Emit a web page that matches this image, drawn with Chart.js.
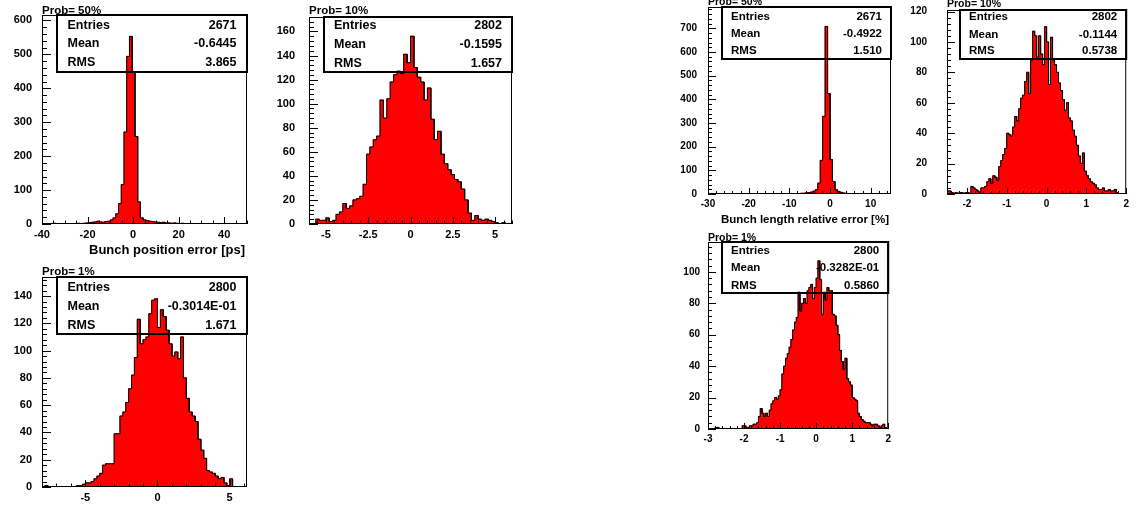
<!DOCTYPE html>
<html>
<head>
<meta charset="utf-8">
<title>Bunch reconstruction errors</title>
<script src="https://cdn.jsdelivr.net/npm/chart.js@4.4.1/dist/chart.umd.min.js"></script>
<style>
  html, body { margin: 0; padding: 0; background: #fff; }
  body { position: relative; width: 1137px; height: 506px; overflow: hidden; }
  canvas { position: absolute; }
</style>
</head>
<body>
<canvas id="pos50"></canvas>
<canvas id="pos10"></canvas>
<canvas id="pos1"></canvas>
<canvas id="len50"></canvas>
<canvas id="len10"></canvas>
<canvas id="len1"></canvas>
<script>
var probLabels = ['Prob= 50%', 'Prob= 10%', 'Prob= 1%'];
var statNames = ['Entries', 'Mean', 'RMS'];

// bunch position error [ps]
var posTitle = 'Bunch position error [ps]';

var posRange50 = [-40, 50];
var posYMax50 = 616;
var posCounts50 = [
  0, 0, 0, 1, 2, 0, 0, 0, 1, 0,
  0, 1, 1, 2, 1, 2, 3, 4, 5, 6,
  8, 6, 5, 7, 8, 12, 18, 30, 60, 116,
  271, 494, 553, 449, 258, 65, 18, 12, 10, 8,
  7, 6, 5, 4, 5, 3, 3, 2, 3, 2,
  1, 2, 1, 1, 0, 1, 0, 0, 0, 0,
  0, 0, 0, 0, 0, 0, 0, 0, 0, 0,
  0, 0, 0, 0, 0
];
var posStats50 = ['2671', '-0.6445', '3.865'];
var posTicks50 = [-40, -20, 0, 20, 40];
var posYTicks50 = [0, 100, 200, 300, 400, 500, 600];

var posRange10 = [-6, 6];
var posYMax10 = 172;
var posCounts10 = [
  0, 0, 4, 3, 3, 5, 2, 3, 8, 10,
  17, 13, 15, 20, 21, 23, 33, 58, 64, 70,
  73, 103, 88, 104, 118, 124, 127, 125, 141, 134,
  156, 130, 122, 118, 103, 113, 87, 70, 77, 58,
  50, 45, 41, 37, 35, 29, 20, 9, 3, 7,
  4, 3, 4, 3, 2, 1, 0, 1, 0, 0
];
var posStats10 = ['2802', '-0.1595', '1.657'];
var posTicks10 = [-5, -2.5, 0, 2.5, 5];
var posYTicks10 = [0, 20, 40, 60, 80, 100, 120, 140, 160];

var posRange1 = [-8, 6.2];
var posYMax1 = 154;
var posCounts1 = [
  0, 1, 0, 0, 0, 0, 0, 0, 0, 0,
  0, 0, 1, 1, 2, 3, 3, 4, 6, 8,
  10, 16, 17, 17, 17, 39, 39, 52, 55, 62,
  72, 82, 95, 123, 105, 108, 110, 127, 137, 138,
  117, 130, 125, 115, 105, 96, 99, 94, 110, 80,
  65, 55, 52, 48, 35, 27, 21, 12, 11, 10,
  8, 6, 7, 3, 1, 6, 0, 0, 0, 0,
  0
];
var posStats1 = ['2800', '-0.3014E-01', '1.671'];
var posTicks1 = [-5, 0, 5];
var posYTicks1 = [0, 20, 40, 60, 80, 100, 120, 140];

// bunch length relative error [%]
var lenTitle = 'Bunch length relative error [%]';

var lenRange50 = [-30, 15];
var lenYMax50 = 790;
var lenCounts50 = [
  0, 0, 0, 0, 0, 0, 0, 0, 0, 0,
  0, 0, 0, 0, 0, 0, 0, 0, 0, 0,
  0, 0, 0, 0, 0, 0, 0, 1, 0, 0,
  0, 1, 0, 1, 0, 2, 1, 2, 3, 3,
  5, 6, 8, 12, 18, 46, 142, 328, 708, 424,
  145, 53, 18, 11, 7, 4, 3, 2, 1, 2,
  1, 0, 1, 0, 0, 0, 0, 0, 0, 0,
  0, 0, 0, 0, 0
];
var lenStats50 = ['2671', '-0.4922', '1.510'];
var lenTicks50 = [-30, -20, -10, 0, 10];
var lenYTicks50 = [0, 100, 200, 300, 400, 500, 600, 700];

var lenRange10 = [-2.5, 2];
var lenYMax10 = 121;
var lenCounts10 = [
  2, 2, 1, 0, 1, 0, 1, 1, 0, 1,
  1, 0, 5, 4, 3, 2, 1, 4, 4, 5,
  8, 10, 7, 12, 11, 9, 18, 22, 26, 30,
  40, 39, 38, 44, 51, 48, 56, 63, 65, 74,
  80, 66, 88, 107, 104, 90, 104, 92, 85, 110,
  100, 72, 103, 88, 85, 80, 73, 68, 62, 55,
  60, 50, 48, 42, 38, 32, 25, 20, 27, 15,
  12, 10, 8, 7, 6, 4, 3, 3, 4, 2,
  2, 3, 2, 2, 3, 1, 0, 0, 0, 0
];
var lenStats10 = ['2802', '-0.1144', '0.5738'];
var lenTicks10 = [-2, -1, 0, 1, 2];
var lenYTicks10 = [0, 20, 40, 60, 80, 100, 120];

var lenRange1 = [-3, 2];
var lenYMax1 = 119;
var lenCounts1 = [
  0, 0, 0, 0, 1, 1, 0, 0, 0, 0,
  0, 0, 0, 0, 0, 0, 0, 0, 0, 2,
  2, 1, 1, 2, 2, 3, 3, 4, 8, 13,
  10, 8, 10, 8, 12, 16, 18, 20, 19, 21,
  25, 35, 40, 45, 48, 52, 57, 63, 68, 71,
  87, 75, 80, 83, 80, 88, 90, 92, 83, 90,
  96, 107, 95, 73, 87, 82, 90, 88, 88, 73,
  72, 66, 60, 50, 43, 38, 45, 32, 30, 28,
  20, 19, 18, 10, 8, 6, 5, 4, 4, 4,
  3, 2, 3, 3, 2, 1, 2, 3, 1, 0
];
var lenStats1 = ['2800', '-0.3282E-01', '0.5860'];
var lenTicks1 = [-3, -2, -1, 0, 1, 2];
var lenYTicks1 = [0, 20, 40, 60, 80, 100];

// pad layout: frame = [left, top, right, bottom] in page pixels
var bigPad = {tick: 11, stat: 12.5, title: 11.5, axis: 13, tickX: [7, 3.5], tickY: [9, 5]};
var smallPad = {tick: 10, stat: 11.5, title: 10.5, axis: 11.5, tickX: [6, 3], tickY: [8, 4]};

var panels = [
  {id: 'pos50', frame: [42, 15, 247, 224], range: posRange50, yMax: posYMax50, counts: posCounts50,
    stats: posStats50, xTicks: posTicks50, yTicks: posYTicks50, xMinor: 5, yMinor: 20,
    label: probLabels[0], labelLift: 1.3, axisTitle: posTitle, yPad: 10, look: bigPad,
    box: {dx: 15, h: 57, rows: [10.5, 29, 48], inset: 10.5}},
  {id: 'pos10', frame: [309, 17, 512, 224], range: posRange10, yMax: posYMax10, counts: posCounts10,
    stats: posStats10, xTicks: posTicks10, yTicks: posYTicks10, xMinor: 0.5, yMinor: 4,
    label: probLabels[1], labelLift: 3.5, yPad: 14, look: bigPad,
    box: {dx: 15, h: 55, rows: [9, 27.5, 46.5], inset: 10}},
  {id: 'pos1', frame: [42, 277, 247, 487], range: posRange1, yMax: posYMax1, counts: posCounts1,
    stats: posStats1, xTicks: posTicks1, yTicks: posYTicks1, xMinor: 1, yMinor: 4,
    label: probLabels[2], labelLift: 1.6, yPad: 10, look: bigPad,
    box: {dx: 15, h: 57, rows: [10.5, 29.5, 48.5], inset: 10.5}},
  {id: 'len50', frame: [708, 7, 891, 194], range: lenRange50, yMax: lenYMax50, counts: lenCounts50,
    stats: lenStats50, xTicks: lenTicks50, yTicks: lenYTicks50, xMinor: 2, yMinor: 20,
    label: probLabels[0], labelLift: 1.8, axisTitle: lenTitle, yPad: 11, look: smallPad,
    box: {dx: 14, h: 52, rows: [9.5, 27, 43.5], inset: 9}},
  {id: 'len10', frame: [947, 10, 1129, 194], range: lenRange10, yMax: lenYMax10, counts: lenCounts10,
    stats: lenStats10, xTicks: lenTicks10, yTicks: lenYTicks10, xMinor: 0.2, yMinor: 4,
    label: probLabels[1], labelLift: 3, yPad: 20, look: smallPad,
    box: {dx: 13, h: 49, rows: [7, 24.5, 40.5], inset: 9}},
  {id: 'len1', frame: [708, 242, 891, 429], range: lenRange1, yMax: lenYMax1, counts: lenCounts1,
    stats: lenStats1, xTicks: lenTicks1, yTicks: lenYTicks1, xMinor: 0.2, yMinor: 4,
    label: probLabels[2], labelLift: 1.3, yPad: 8, look: smallPad,
    box: {dx: 14, h: 51, rows: [8.5, 26, 43.5], inset: 9}}
];

var FONT = '"Liberation Sans", Arial, Helvetica, sans-serif';
// top margin stays larger than the y scale's own label padding
var PAD_L = 44, PAD_T = 32, PAD_R = 4, PAD_B = 40;

function steps(lo, hi, step) {
  var out = [];
  var k0 = Math.ceil(lo / step - 1e-9), k1 = Math.floor(hi / step + 1e-9);
  for (var k = k0; k <= k1; k++) {
    out.push(+(k * step).toFixed(6));
  }
  return out;
}

// frame, inward tick marks, stats box and labels in the ROOT style
function rootPad(p) {
  return {
    id: 'rootPad',
    afterDatasetsDraw: function(chart) {
      var ctx = chart.ctx;
      var a = chart.chartArea;
      var xs = chart.scales.x, ys = chart.scales.y;
      var look = p.look;
      ctx.save();
      ctx.strokeStyle = '#000';
      ctx.lineWidth = 1;
      ctx.strokeRect(a.left + 0.5, a.top + 0.5, a.right - a.left - 1, a.bottom - a.top - 1);

      ctx.beginPath();
      steps(p.range[0], p.range[1], p.xMinor).forEach(function(v) {
        var px = Math.round(xs.getPixelForValue(v)) + 0.5;
        var len = p.xTicks.indexOf(v) >= 0 ? look.tickX[0] : look.tickX[1];
        ctx.moveTo(px, a.bottom);
        ctx.lineTo(px, a.bottom - len);
      });
      steps(0, p.yMax, p.yMinor).forEach(function(v) {
        var py = Math.round(ys.getPixelForValue(v)) + 0.5;
        var len = p.yTicks.indexOf(v) >= 0 ? look.tickY[0] : look.tickY[1];
        ctx.moveTo(a.left, py);
        ctx.lineTo(a.left + len, py);
      });
      ctx.stroke();

      // statistics box
      var bx = a.left + p.box.dx;
      ctx.lineWidth = 2;
      ctx.strokeRect(bx, a.top, a.right - bx, p.box.h);
      ctx.fillStyle = '#000';
      ctx.font = 'bold ' + look.stat + 'px ' + FONT;
      ctx.textBaseline = 'middle';
      p.stats.forEach(function(val, k) {
        var y = a.top + p.box.rows[k];
        ctx.textAlign = 'left';
        ctx.fillText(statNames[k], bx + p.box.inset, y);
        ctx.textAlign = 'right';
        ctx.fillText(val, a.right - p.box.inset, y);
      });

      ctx.font = 'bold ' + look.title + 'px ' + FONT;
      ctx.textAlign = 'left';
      ctx.textBaseline = 'alphabetic';
      ctx.fillText(p.label, a.left, a.top - p.labelLift);

      if (p.axisTitle) {
        ctx.font = 'bold ' + look.axis + 'px ' + FONT;
        ctx.textAlign = 'right';
        ctx.textBaseline = 'middle';
        ctx.fillText(p.axisTitle, a.right - 2, a.bottom + 26);
      }
      ctx.restore();
    }
  };
}

function drawHist(p) {
  var canvas = document.getElementById(p.id);
  var fl = p.frame[0], ft = p.frame[1], fr = p.frame[2], fb = p.frame[3];
  canvas.width = fr - fl + PAD_L + PAD_R;
  canvas.height = fb - ft + PAD_T + PAD_B;
  canvas.style.left = (fl - PAD_L) + 'px';
  canvas.style.top = (ft - PAD_T) + 'px';

  var lo = p.range[0], hi = p.range[1];
  var w = (hi - lo) / p.counts.length;
  var bars = p.counts.map(function(c, i) {
    return {x: lo + w * (i + 0.5), y: c};
  });
  // contour along the bin edges: each bin gives its left and right corner
  var outline = [{x: lo, y: 0}];
  p.counts.forEach(function(c, i) {
    outline.push({x: lo + w * i, y: c});
    outline.push({x: lo + w * (i + 1), y: c});
  });
  outline.push({x: hi, y: 0});

  var tickFont = {family: FONT, weight: 'bold', size: p.look.tick};

  return new Chart(canvas, {
    type: 'bar',
    data: {
      datasets: [{
        type: 'line',
        data: outline,
        borderColor: '#000',
        borderWidth: 1,
        pointRadius: 0,
        tension: 0,
        fill: false,
        order: 0
      }, {
        type: 'bar',
        data: bars,
        backgroundColor: '#ff0000',
        borderWidth: 0,
        barPercentage: 1,
        categoryPercentage: 1,
        inflateAmount: 0.5,
        order: 1
      }]
    },
    options: {
      responsive: false,
      animation: false,
      devicePixelRatio: 1,
      layout: {padding: {top: PAD_T, right: PAD_R, left: 0, bottom: 0}},
      plugins: {legend: {display: false}, tooltip: {enabled: false}},
      scales: {
        x: {
          type: 'linear',
          min: lo,
          max: hi,
          offset: false,
          grid: {display: false, drawTicks: false},
          border: {display: false},
          afterFit: function(s) { s.height = PAD_B; },
          afterBuildTicks: function(s) {
            s.ticks = p.xTicks.map(function(v) { return {value: v}; });
          },
          ticks: {
            padding: 4,
            color: '#000',
            font: tickFont,
            maxRotation: 0,
            autoSkip: false,
            callback: function(v) { return String(v); }
          }
        },
        y: {
          min: 0,
          max: p.yMax,
          grid: {display: false, drawTicks: false},
          border: {display: false},
          afterFit: function(s) { s.width = PAD_L; },
          afterBuildTicks: function(s) {
            s.ticks = p.yTicks.map(function(v) { return {value: v}; });
          },
          ticks: {
            padding: p.yPad,
            color: '#000',
            font: tickFont,
            autoSkip: false,
            callback: function(v) { return String(v); }
          }
        }
      }
    },
    plugins: [rootPad(p)]
  });
}

panels.forEach(drawHist);
</script>
</body>
</html>
